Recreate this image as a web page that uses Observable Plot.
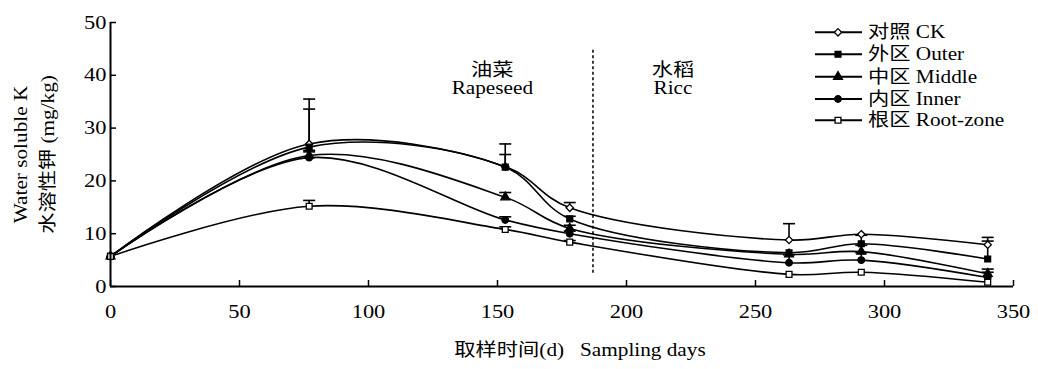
<!DOCTYPE html>
<html><head><meta charset="utf-8">
<script src="https://cdn.jsdelivr.net/npm/d3@7"></script>
<script src="https://cdn.jsdelivr.net/npm/@observablehq/plot@0.6"></script>
<style>
body{margin:0;background:#fff;}
#wrap{position:relative;width:1038px;height:369px;overflow:hidden;}
#wrap svg{font-family:"Liberation Serif","Noto Sans CJK SC",serif;}
</style></head><body><div id="wrap"></div>
<script>
// ---- data ----
const days = [0, 77, 153, 178, 263, 291, 340];
const seriesNames = ["对照 CK", "外区 Outer", "中区 Middle", "内区 Inner", "根区 Root-zone"];
const ckValues     = [5.7, 27.0, 22.7, 14.9, 8.8, 9.9, 7.9];
const outerValues  = [5.7, 26.4, 22.6, 12.8, 6.4, 8.1, 5.2];
const middleValues = [5.7, 24.8, 16.9, 11.0, 6.1, 6.6, 2.4];
const innerValues  = [5.7, 24.4, 12.6, 10.0, 4.5, 5.0, 1.7];
const rootValues   = [5.7, 15.2, 10.8, 8.4, 2.3, 2.7, 0.8];
const ckErr     = [0, 8.5, 4.3, 1.0, 3.1, 0, 1.4];
const outerErr  = [0, 7.2, 2.4, 0.5, 0, 1.6, 3.4];
const middleErr = [0, 1.0, 0.9, 0.6, 0, 1.2, 0.9];
const innerErr  = [0, 1.1, 0.6, 0.5, 1.5, 1.4, 1.0];
const rootErr   = [0, 1.1, 0.5, 0.3, 0, 0, 0];
const xTicks = [0, 50, 100, 150, 200, 250, 300, 350];
const yTicks = [0, 10, 20, 30, 40, 50];
const seasonBoundary = 187;
const boundaryExtent = [2.5, 45];
const seasonLabels = [{day: 148, text: "油菜\nRapeseed"}, {day: 218, text: "水稻\nRicc"}];
const seasonLabelLevel = 39.2;
const xTitle = "取样时间(d)   Sampling days";
const yTitle = "Water soluble K\n水溶性钾 (mg/kg)";

// ---- styles ----
const symbols = ["diamond2", "square", "triangle", "circle", "square"];
const fills = ["white", "black", "black", "black", "white"];
const R = 3.3;
const STRETCH = 1.18;

const valueSets = [ckValues, outerValues, middleValues, innerValues, rootValues];
const errSets = [ckErr, outerErr, middleErr, innerErr, rootErr];
const rows = [];
seriesNames.forEach((s, i) => days.forEach((d, j) => rows.push({
  series: s, day: d, value: valueSets[i][j], err: errSets[i][j], fill: fills[i]
})));
const errRows = rows.filter(d => d.err > 0);
const capSymbol = {draw(ctx) { ctx.moveTo(-6, 0); ctx.lineTo(6, 0); }};

const chart = Plot.plot({
  width: 1038, height: 369,
  marginLeft: 110, marginRight: 25, marginTop: 22, marginBottom: 83,
  style: {fontFamily: '"Liberation Serif","Noto Sans CJK SC",serif', fontSize: "19px", color: "black", background: "white"},
  x: {domain: [0, 350]},
  y: {domain: [0, 50]},
  color: {type: "identity"},
  symbol: {domain: seriesNames, range: symbols},
  marks: [
    Plot.ruleX([seasonBoundary], {y1: boundaryExtent[0], y2: boundaryExtent[1], strokeDasharray: "3,2.5", strokeWidth: 1.5, stroke: "black"}),
    Plot.line(rows, {x: "day", y: "value", z: "series", curve: "catmull-rom", stroke: "black", strokeWidth: 1.6}),
    Plot.ruleX(errRows, {x: "day", y1: "value", y2: d => d.value + d.err, stroke: "black", strokeWidth: 1.6}),
    Plot.dot(errRows, {x: "day", y: d => d.value + d.err, symbol: capSymbol, stroke: "black", fill: "none", strokeWidth: 1.6}),
    Plot.dot(rows, {x: "day", y: "value", symbol: "series", fill: "fill", stroke: "black", r: R, strokeWidth: 1.3}),
    Plot.ruleY([0], {stroke: "black", strokeWidth: 2}),
    Plot.ruleX([0], {stroke: "black", strokeWidth: 2}),
    Plot.axisX({ticks: xTicks, tickSize: -6, tickPadding: 24, label: null, strokeWidth: 1.5, fontSize: 19}),
    Plot.axisY({ticks: yTicks, tickSize: -6, tickPadding: 10, label: null, strokeWidth: 1.5, fontSize: 19}),
    Plot.text(seasonLabels, {x: "day", y: () => seasonLabelLevel, text: "text", fontSize: 18, lineHeight: 1.0, lineAnchor: "middle"}),
    Plot.text([xTitle], {frameAnchor: "bottom", dy: 69, dx: 18, fontSize: 18, textAnchor: "middle"}),
    Plot.text([yTitle], {frameAnchor: "left", dx: -79, rotate: -90, fontSize: 18, textAnchor: "middle", lineHeight: 1.5})
  ]
});
const wrap = document.getElementById("wrap");
wrap.appendChild(chart);

// ---- legend overlay ----
const legendY = [32.3, 54.3, 76.7, 99, 120.3];
const lg = d3.select(wrap).append("svg")
  .attr("width", 1038).attr("height", 369)
  .style("position", "absolute").style("left", 0).style("top", 0)
  .style("font-family", '"Liberation Serif","Noto Sans CJK SC",serif');
const d3sym = {diamond2: d3.symbolDiamond2, square: d3.symbolSquare, triangle: d3.symbolTriangle, circle: d3.symbolCircle};
seriesNames.forEach((s, i) => {
  const g = lg.append("g").attr("transform", `translate(0,${legendY[i]})`);
  g.append("line").attr("x1", 815).attr("x2", 862).attr("stroke", "black").attr("stroke-width", 2);
  g.append("path").attr("transform", "translate(838,0)")
    .attr("d", d3.symbol().type(d3sym[symbols[i]]).size(Math.PI * R * R)())
    .attr("fill", fills[i]).attr("stroke", "black").attr("stroke-width", 1.3);
  g.append("text").attr("x", 868).attr("dy", "0.34em").attr("font-size", 18).text(s);
});

// widen glyphs to match the reference's broad lettering
function stretch(root, k) {
  root.querySelectorAll("text").forEach(t => {
    const spans = t.querySelectorAll("tspan");
    const targets = spans.length ? [...spans] : [t];
    targets.forEach(el => {
      const w = el.getComputedTextLength();
      if (w > 0) { el.setAttribute("textLength", w * k); el.setAttribute("lengthAdjust", "spacingAndGlyphs"); }
    });
  });
}
stretch(wrap, STRETCH);
</script></body></html>
